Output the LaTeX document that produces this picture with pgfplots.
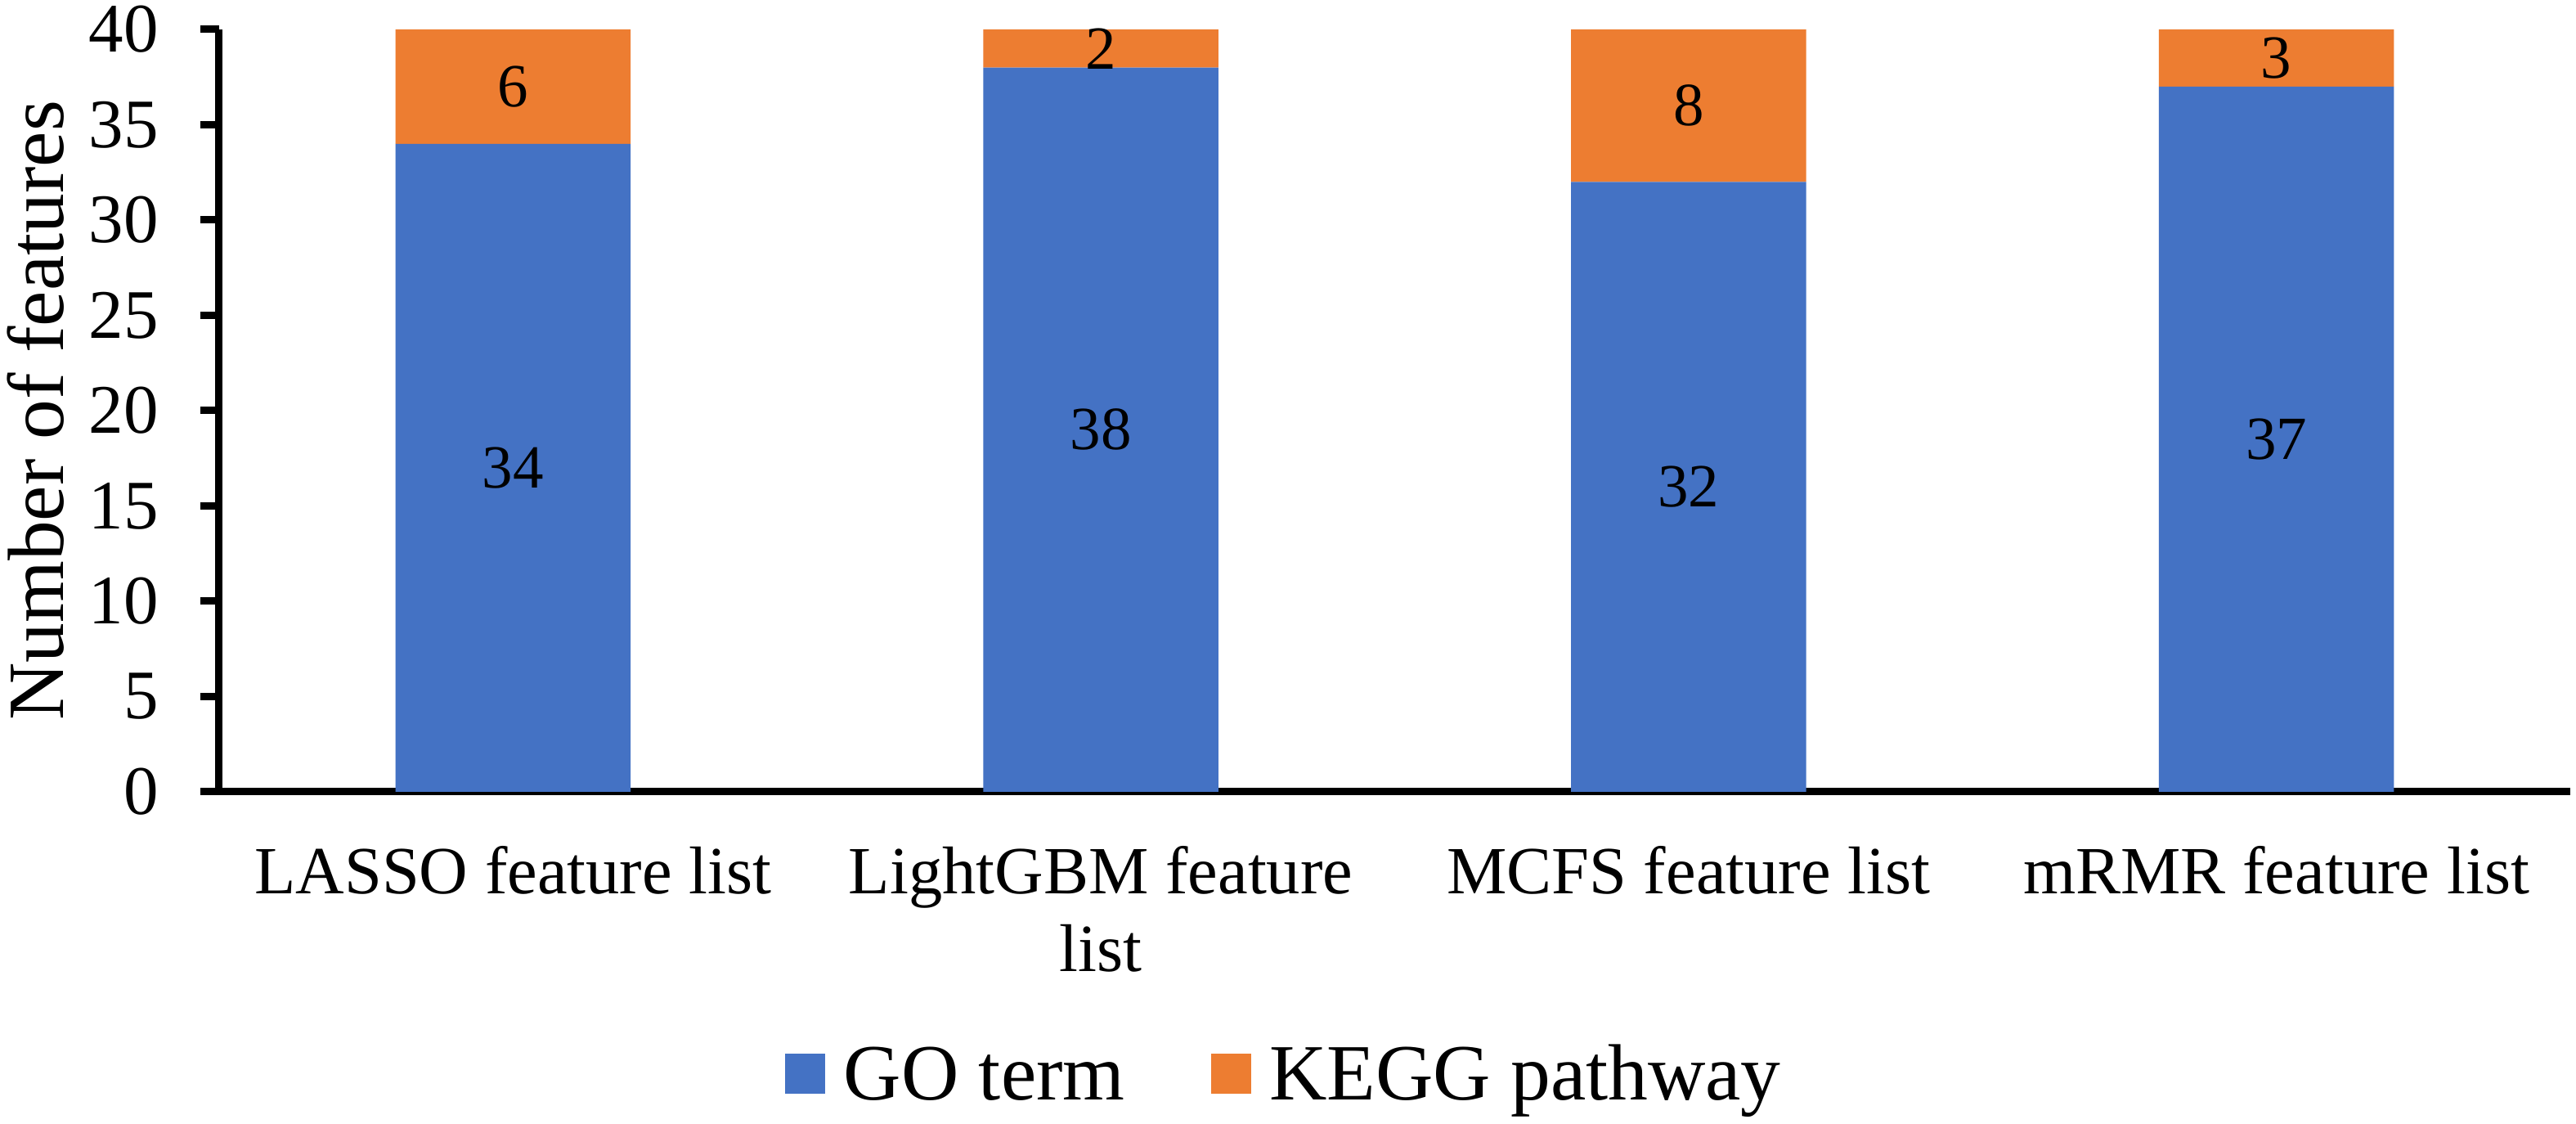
\documentclass[border=0pt]{standalone}
\usepackage{pgfplots}
\pgfplotsset{compat=1.18}
\usepackage{pgfplotstable}
\usepackage{fontspec}
\setmainfont{Liberation Serif}
\definecolor{goblue}{HTML}{4472C4}
\definecolor{keggor}{HTML}{ED7D31}

\pgfplotstableread{
x go kegg
0 34 6
1 38 2
2 32 8
3 37 3
}\datatab

\pgfplotstableread{
x y lab
0 17 34
1 19 38
2 16 32
3 18.5 37
0 37 6
1 39 2
2 36 8
3 38.5 3
}\labtab

\begin{document}
\begin{tikzpicture}
\path[use as bounding box] (0,0) rectangle (630pt,274.8pt);
\begin{axis}[
  at={(53.6pt,81.2pt)}, anchor=south west, scale only axis,
  width=575pt, height=186.4pt,
  xmin=-0.5, xmax=3.5, ymin=0, ymax=40,
  ybar stacked, bar width=57.5pt,
  xtick={0,1,2,3},
  xticklabels={LASSO feature list,{LightGBM feature\\list},MCFS feature list,mRMR feature list},
  ytick={0,5,...,40},
  axis x line=bottom, axis y line=left,
  axis line style={line width=1.8pt,-},
  tick align=outside, major tick length=4.6pt,
  ytick style={line width=1.8pt,black},
  xtick style={draw=none},
  /pgf/number format/assume math mode=true,
  xticklabel style={font=\fontsize{16.5}{19}\selectfont, align=center, anchor=north, inner sep=0pt, yshift=-8.5pt},
  yticklabel style={font=\fontsize{17}{20}\selectfont, anchor=east, inner sep=0pt, xshift=-10pt},
  ylabel={Number of features},
  ylabel style={font=\fontsize{19.5}{22}\selectfont, at={(axis description cs:-0.0664,0.5)}, anchor=base},
  legend columns=2,
  legend style={at={(axis description cs:0.4525,-0.4130)}, anchor=south, draw=none, inner sep=0pt,
    font=\fontsize{19.5}{22}\selectfont,
    nodes={inner sep=0pt},
    cells={anchor=base west},
    /tikz/every odd column/.append style={column sep=4.5pt},
    /tikz/every even column/.append style={column sep=21pt}},
  legend image code/.code={\fill[#1] (0pt,1.4pt) rectangle (9.8pt,11.2pt);},
]
\addplot[fill=goblue, draw=none] table[x=x, y=go] {\datatab};
\addplot[fill=keggor, draw=none] table[x=x, y=kegg] {\datatab};
\legend{GO term, KEGG pathway}
\end{axis}
\begin{axis}[
  at={(53.6pt,81.2pt)}, anchor=south west, scale only axis,
  width=575pt, height=186.4pt,
  xmin=-0.5, xmax=3.5, ymin=0, ymax=40,
  hide axis, clip=false,
]
\addplot[draw=none, mark=none, nodes near coords, point meta=explicit symbolic,
  nodes near coords style={font=\fontsize{15}{18}\selectfont, anchor=center, inner sep=0pt}]
  table[x=x, y=y, meta=lab] {\labtab};
\end{axis}
\end{tikzpicture}
\end{document}
